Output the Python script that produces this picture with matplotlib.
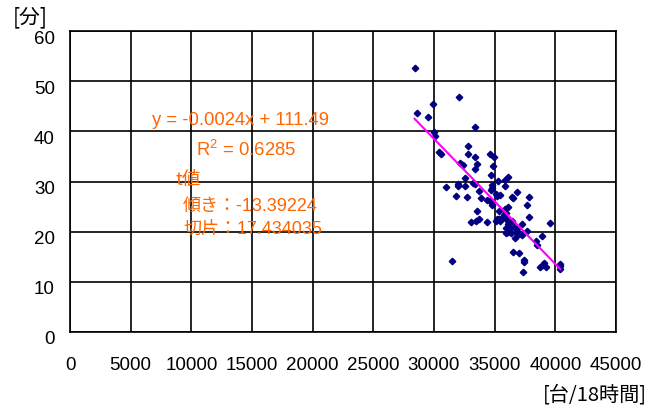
import numpy as np
import matplotlib
matplotlib.use("Agg")
import matplotlib.pyplot as plt
import matplotlib.transforms as mtransforms

plt.rcParams['font.family'] = ['Liberation Sans', 'Noto Sans CJK JP', 'DejaVu Sans']

# traffic volume [台/18時間] vs travel time [分]
traffic = [28400, 32080, 28630, 29890, 29480, 30000, 30050, 33340, 30440, 30580,
           32820, 32820, 33370, 33560, 33370, 32140, 32360, 34600, 34960, 34880,
           34660, 32580, 33210, 33340, 32000, 32000, 32520, 30990, 33670, 34740,
           34800, 35260, 35860, 36110, 35890, 31840, 32690, 33890, 34360, 34630,
           35070, 35210, 34770, 35450, 36410, 36470, 36880, 37840, 37700, 33540,
           35370, 35840, 35950, 36110, 35750, 37860, 33700, 33430, 33010, 34360,
           35100, 35340, 35560, 35970, 36410, 36060, 35920, 36300, 36630, 36880,
           37230, 36140, 35920, 36360, 36800, 36710, 36990, 37260, 37670, 39590,
           38930, 38410, 38520, 36490, 36990, 37400, 37450, 37340, 31480, 38770,
           38990, 39260, 39100, 40360, 40410, 40360, 35210, 35480, 34660]
minutes = [52.6, 46.9, 43.7, 45.5, 42.8, 39.9, 39.1, 40.9, 35.8, 35.5,
           37.1, 35.5, 34.8, 33.5, 32.5, 33.6, 33.3, 35.4, 34.8, 33.1,
           31.2, 30.7, 29.8, 29.6, 29.2, 29.6, 29.1, 29.0, 28.2, 29.4,
           28.7, 30.1, 30.2, 30.8, 29.2, 27.2, 26.9, 26.7, 26.4, 26.1,
           27.5, 27.2, 25.4, 27.3, 26.9, 26.7, 27.9, 26.9, 25.4, 24.2,
           24.2, 24.5, 23.8, 25.0, 23.3, 23.0, 22.5, 22.2, 21.9, 21.9,
           22.2, 22.6, 22.5, 22.5, 22.2, 21.5, 20.8, 20.8, 20.9, 20.5,
           21.5, 19.9, 19.7, 19.7, 19.8, 18.8, 19.5, 19.3, 20.1, 21.8,
           19.1, 18.2, 17.3, 16.0, 15.8, 14.4, 13.9, 11.9, 14.1, 12.9,
           13.4, 12.9, 13.7, 13.1, 13.6, 12.6, 22.5, 22.2, 28.4]

eq_text = "y = -0.0024x + 111.49"
r2_text = "R$^2$ = 0.6285"
t_title = "t値"
t_slope = "傾き：-13.39224"
t_icpt = "切片：17.434035"

x_ticks = list(range(0, 45001, 5000))
y_ticks = list(range(0, 61, 10))

orange = "#FF6600"
plt.rcParams['mathtext.fontset'] = 'custom'
plt.rcParams['mathtext.rm'] = 'Liberation Sans'
plt.rcParams['mathtext.it'] = 'Liberation Sans'

fig = plt.figure(figsize=(6.63, 4.09), dpi=100)
ax = fig.add_axes([70 / 663, 77 / 409, 546 / 663, 301 / 409])

ax.set_xlim(0, 45000)
ax.set_ylim(0, 60)
ax.set_xticks(x_ticks)
ax.set_yticks(y_ticks)
ax.grid(True, color="black", linewidth=1.2)
ax.set_axisbelow(True)
for s in ax.spines.values():
    s.set_color("black")
    s.set_linewidth(1.2)
ax.tick_params(length=0, labelsize=13.5)
ax.tick_params(axis="x", pad=18)
ax.tick_params(axis="y", pad=11)
offset = mtransforms.ScaledTranslation(0, -6 / 100, fig.dpi_scale_trans)
for lab in ax.get_yticklabels():
    lab.set_transform(lab.get_transform() + offset)

ax.plot(traffic, minutes, linestyle="none", marker="D", markersize=3.3,
        color="#000080", zorder=3)

# linear trend line
k, b = np.polyfit(traffic, minutes, 1)
xs = np.array([min(traffic), max(traffic)])
ax.plot(xs, k * xs + b, color="#FF00FF", linewidth=1.5, zorder=4)

ax.text(6758, 42.1, eq_text, color=orange, fontsize=13.3, va="center")
ax.text(10385, 36.3, r2_text, color=orange, fontsize=13.3, va="center")
ax.text(8736, 30.3, t_title, color=orange, fontsize=13.3, va="center",
        family=["Noto Sans CJK JP"])
ax.text(9313, 25.0, t_slope, color=orange, fontsize=13, va="center")
ax.text(9313, 20.5, t_icpt, color=orange, fontsize=13, va="center")

fig.text(13 / 663, 1 - 17 / 409, "[分]", fontsize=15, va="center", ha="left",
         family=["Noto Sans CJK JP"])
fig.text(647 / 663, 1 - 395 / 409, "[台/18時間]", fontsize=14.5, va="center", ha="right",
         family=["Noto Sans CJK JP"])

fig.savefig("out.png", dpi=100)
